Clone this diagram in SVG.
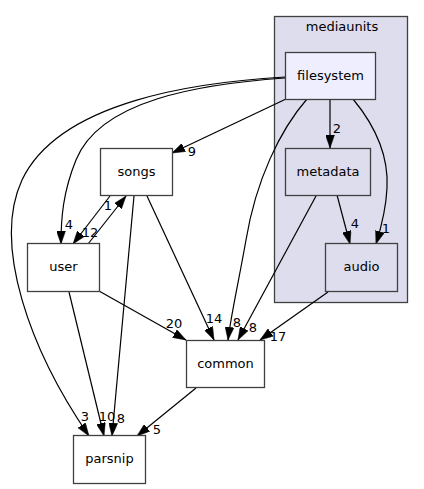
<svg xmlns="http://www.w3.org/2000/svg" width="424" height="489" viewBox="0 0 424 489">
<style>
text{font-family:"DejaVu Sans",sans-serif;font-size:13px;fill:#000}
.n{fill:#fff;stroke:#404040;stroke-width:1.3}
.c{fill:#ddddee;stroke:#404040;stroke-width:1.3}
.e path{fill:none;stroke:#000;stroke-width:1.2;marker-end:url(#a)}
.m{text-anchor:middle}
</style>
<defs>
<marker id="a" viewBox="0 0 13 9" refX="13" refY="4.5" markerWidth="13" markerHeight="9" markerUnits="userSpaceOnUse" orient="auto">
<path d="M0,0L13,4.5L0,9z" fill="#000" stroke="#000" stroke-width="0.5"/>
</marker>
</defs>
<g id="cluster_mediaunits">
<rect x="274.5" y="16.5" width="133" height="286" class="c"/>
<text x="342" y="31" class="m">mediaunits</text>
</g>
<g class="e" id="edges">
<path d="M285,77 C200,82 60,100 22,180 C-8,245 30,350 89,436"/>
<path d="M285,78 C200,84 100,100 76,160 C63,192 61,218 61,244"/>
<path d="M286,99 L172,153"/>
<path d="M307,99 C280,130 256,180 246,240 C238,285 231,315 228,340"/>
<path d="M330,99 L330,148"/>
<path d="M353,99 C372,122 389,152 387,188 C386,210 381,228 376,244"/>
<path d="M337,195 L350,244"/>
<path d="M316,196 L238,340"/>
<path d="M328,292 L260,340"/>
<path d="M110,196 L73,244"/>
<path d="M88,244 L126,196"/>
<path d="M147,196 L214,340"/>
<path d="M134,196 L112,436"/>
<path d="M99,291 L186,340"/>
<path d="M69,292 L104,436"/>
<path d="M196,388 L137,436"/>
</g>
<g id="edge_labels">
<text x="192" y="156" class="m">9</text>
<text x="69" y="229" class="m">4</text>
<text x="90" y="237" class="m">12</text>
<text x="108" y="210" class="m">1</text>
<text x="174" y="328" class="m">20</text>
<text x="85" y="421" class="m">3</text>
<text x="107" y="421" class="m">10</text>
<text x="121" y="423" class="m">8</text>
<text x="157" y="434" class="m">5</text>
<text x="214" y="323" class="m">14</text>
<text x="237" y="327" class="m">8</text>
<text x="253" y="332" class="m">8</text>
<text x="278" y="341" class="m">17</text>
<text x="337" y="133" class="m">2</text>
<text x="355" y="228" class="m">4</text>
<text x="386" y="233" class="m">1</text>
</g>
<g id="filesystem"><rect x="285.5" y="52.5" width="90" height="47" fill="#eeeeff" stroke="#404040" stroke-width="1.3"/><text x="330.5" y="79.5" class="m">filesystem</text></g>
<g id="metadata"><rect x="285.5" y="148.5" width="85" height="47" class="c"/><text x="328" y="175.5" class="m">metadata</text></g>
<g id="audio"><rect x="325.5" y="243.5" width="72" height="48" class="c"/><text x="361.5" y="271" class="m">audio</text></g>
<g id="songs"><rect x="100.5" y="148.5" width="72" height="47" class="n"/><text x="136.5" y="175.5" class="m">songs</text></g>
<g id="user"><rect x="27.5" y="243.5" width="72" height="48" class="n"/><text x="63.5" y="271" class="m">user</text></g>
<g id="common"><rect x="186.5" y="340.5" width="78" height="47" class="n"/><text x="225.5" y="367.5" class="m">common</text></g>
<g id="parsnip"><rect x="73.5" y="435.5" width="72" height="48" class="n"/><text x="109.5" y="463" class="m">parsnip</text></g>
</svg>
